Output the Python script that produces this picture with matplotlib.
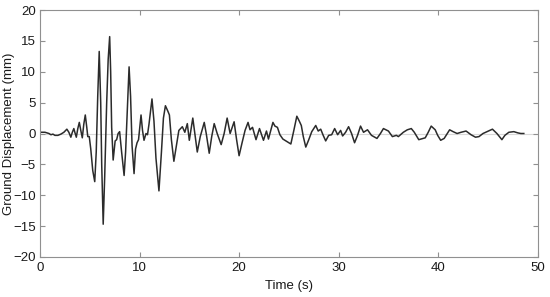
import matplotlib
matplotlib.use('Agg')
import matplotlib.pyplot as plt
import numpy as np

plt.rcParams['font.family'] = ['Liberation Sans', 'DejaVu Sans']

# values (time in s, displacement in mm)
time_s = [
    0.0, 0.5, 0.9, 1.1, 1.3, 1.5, 1.8, 2.1, 2.4, 2.7, 2.9, 3.1, 3.25, 3.4, 3.5,
    3.65, 3.8, 3.95, 4.1, 4.25, 4.4, 4.55, 4.7, 4.8, 4.95, 5.1, 5.3, 5.5, 5.65,
    5.8, 5.95, 6.1, 6.2, 6.35, 6.5, 6.7, 6.85, 7.0, 7.1, 7.2, 7.35, 7.55, 7.7,
    7.85, 8.0, 8.2, 8.45, 8.6, 8.75, 8.95, 9.1, 9.25, 9.45, 9.6, 9.75, 9.9,
    10.15, 10.3, 10.45, 10.65, 10.8, 10.95, 11.25, 11.45, 11.65, 11.95, 12.2,
    12.4, 12.6, 12.85, 13.0, 13.2, 13.45, 13.7, 13.95, 14.3, 14.55, 14.8, 15.0,
    15.35, 15.55, 15.8, 16.1, 16.5, 16.7, 17.0, 17.25, 17.5, 17.8, 18.2, 18.5,
    18.8, 19.1, 19.5, 19.75, 20.0, 20.3, 20.6, 20.9, 21.1, 21.35, 21.7, 22.05,
    22.45, 22.75, 22.95, 23.4, 23.6, 23.85, 24.1, 24.4, 24.8, 25.2, 25.5, 25.8,
    26.05, 26.25, 26.45, 26.7, 27.0, 27.3, 27.7, 27.95, 28.2, 28.45, 28.7, 29.0,
    29.3, 29.6, 29.9, 30.2, 30.4, 30.7, 31.0, 31.3, 31.6, 31.9, 32.2, 32.5,
    32.9, 33.3, 33.85, 34.2, 34.5, 35.0, 35.4, 35.8, 36.0, 36.5, 36.9, 37.3,
    37.6, 38.05, 38.7, 39.0, 39.3, 39.7, 39.95, 40.25, 40.6, 41.15, 41.5, 41.9,
    42.3, 42.8, 43.3, 43.75, 44.1, 44.5, 44.9, 45.45, 45.9, 46.4, 46.7, 47.1,
    47.6, 48.0, 48.3, 48.6,
]
disp_mm = [
    0.2, 0.2, 0.0, -0.2, -0.1, -0.3, -0.3, -0.1, 0.2, 0.7, 0.2, -0.6, 0.2, 0.8, 0.2,
    -0.6, 0.8, 1.8, 0.5, -0.7, 1.5, 3.0, 1.0, -0.5, -0.5, -2.5, -6.0, -7.8, -3.0,
    6.0, 13.3, 5.0, -5.0, -14.7, -7.0, 5.0, 12.0, 15.7, 10.0, 1.0, -4.3, -1.2, -1.0,
    0.0, 0.3, -3.0, -6.8, -3.0, 3.0, 10.8, 6.0, -2.0, -6.5, -2.5, -1.5, -1.0,
    3.0, 0.5, -1.1, 0.0, -0.2, 1.5, 5.6, 2.0, -4.0, -9.3, -3.0,
    2.5, 4.5, 3.6, 3.0, -1.0, -4.5, -2.0, 0.5, 1.1, 0.2, 1.6, -1.1,
    2.5, 0.0, -3.0, -0.5, 1.8, 0.0, -3.2, -0.5, 1.6, 0.0, -1.8, 0.0,
    2.5, 0.0, 1.9, -1.0, -3.6, -1.5, 0.5, 1.8, 0.6, 1.0, -1.0, 0.8,
    -1.1, 0.4, -0.9, 1.8, 1.2, 1.0, -0.2, -0.9, -1.3, -1.7, 0.5, 2.8,
    2.0, 1.3, -0.5, -2.2, -1.0, 0.3, 1.3, 0.4, 0.7, -0.3, -1.2, -0.3,
    -0.2, 0.8, -0.2, 0.5, -0.4, 0.2, 1.1, 0.0, -1.5, -0.3, 1.2, 0.2,
    0.6, -0.3, -0.8, 0.0, 0.8, 0.4, -0.5, -0.3, -0.5, 0.2, 0.6, 0.8,
    0.2, -1.0, -0.7, 0.2, 1.2, 0.6, -0.3, -1.1, -0.8, 0.6, 0.3, 0.0,
    0.2, 0.4, -0.2, -0.6, -0.5, 0.0, 0.3, 0.7, 0.0, -1.0, -0.3, 0.2,
    0.3, 0.1, 0.0, 0.0,
]

fig = plt.figure(figsize=(5.5, 2.97), dpi=100)
ax = fig.add_axes([0.0727, 0.135, 0.905, 0.831])

ax.axhline(0, color='#d8d8d8', lw=0.8, zorder=1)
ax.plot(time_s, disp_mm, color='#2b2b2b', lw=1.1, zorder=2,
        solid_joinstyle='round')

ax.set_xlim(0, 50)
ax.set_ylim(-20, 20)
ax.set_xticks(np.arange(0, 51, 10))
ax.set_yticks(np.arange(-20, 21, 5))
ax.tick_params(direction='in', top=True, right=True, length=3.5, width=0.8,
               color='#909090', labelsize=9.5, labelcolor='#1a1a1a', pad=3)
ax.tick_params(axis='x', pad=4)
for s in ax.spines.values():
    s.set_color('#909090')
    s.set_linewidth(0.8)

ax.set_xlabel('Time (s)', fontsize=9.5, color='#1a1a1a', labelpad=4)
ax.set_ylabel('Ground Displacement (mm)', fontsize=9.5, color='#1a1a1a', labelpad=-1)

fig.savefig('out.png', dpi=100)
